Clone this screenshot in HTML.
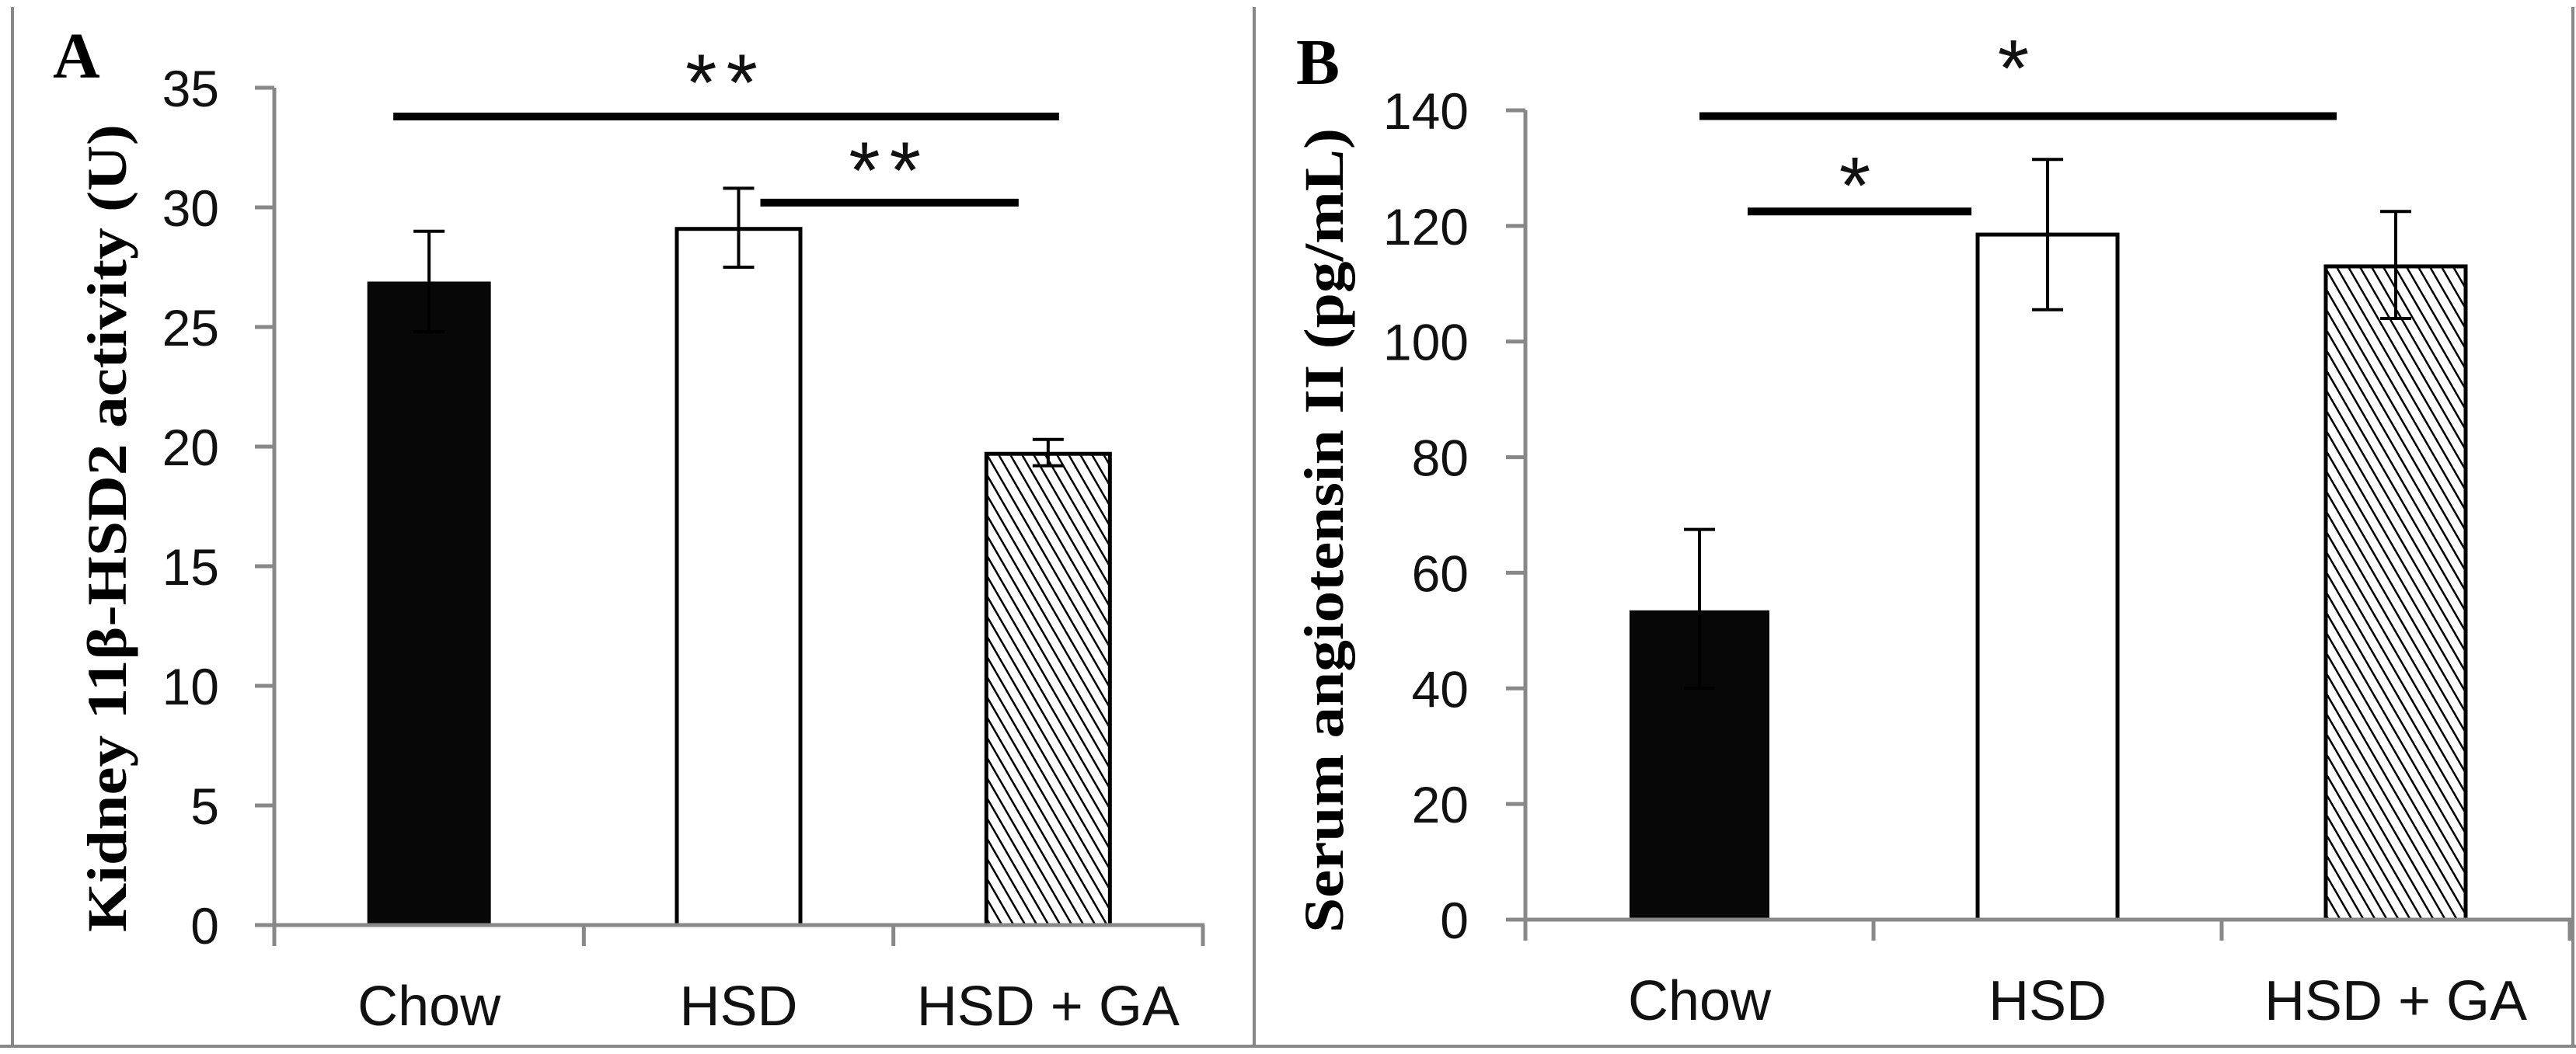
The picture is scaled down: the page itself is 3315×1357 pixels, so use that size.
<!DOCTYPE html>
<html><head><meta charset="utf-8"><style>html,body{margin:0;padding:0;background:#fff}svg{display:block}</style></head>
<body>
<svg id="fig" width="3315" height="1357" viewBox="0 0 3315 1357" xmlns="http://www.w3.org/2000/svg">
<defs>
<pattern id="hatch" patternUnits="userSpaceOnUse" width="13" height="13" patternTransform="rotate(-30)">
<rect width="13" height="13" fill="#fff"/><line x1="0" y1="0" x2="0" y2="13" stroke="#000" stroke-width="5"/>
</pattern>
</defs>
<rect x="14" y="9" width="4" height="1340" fill="#888"/>
<rect x="1612" y="9" width="4" height="1340" fill="#888"/>
<rect x="3309" y="9" width="4" height="1340" fill="#888"/>
<rect x="0" y="1345" width="3315" height="4" fill="#888"/>
<g id="gA"></g>
<g id="gB"></g>
</svg>
<script>
const categories = ["Chow", "HSD", "HSD + GA"];
const valuesA = [26.9, 29.1, 19.7];
const errLowA = [24.8, 27.5, 19.2];
const errHighA = [29.0, 30.8, 20.3];
const ticksA = [0, 5, 10, 15, 20, 25, 30, 35];
const valuesB = [53.5, 118.5, 113];
const errLowB = [40, 105.5, 104];
const errHighB = [67.5, 131.5, 122.5];
const ticksB = [0, 20, 40, 60, 80, 100, 120, 140];
const sigA = [{from: 0, to: 2, level: 33.8, label: "**"}, {from: 1, to: 2, level: 30.2, label: "**"}];
const sigB = [{from: 0, to: 2, level: 139, label: "*"}, {from: 0, to: 1, level: 122.5, label: "*"}];

const NS = "http://www.w3.org/2000/svg";
function mk(parent, tag, attrs, text) {
  const e = document.createElementNS(NS, tag);
  for (const k in attrs) e.setAttribute(k, attrs[k]);
  if (text !== undefined) e.textContent = text;
  parent.appendChild(e);
  return e;
}
const fills = ["#070707", "#fff", "url(#hatch)"];

function drawPanel(g, cfg) {
  const yS = v => cfg.y0 - (v - cfg.vmin) / (cfg.vmax - cfg.vmin) * (cfg.y0 - cfg.yTop);
  const catW = (cfg.xEnd - cfg.x0) / categories.length;
  const xC = i => cfg.x0 + catW * (i + 0.5);
  let t = mk(g, "text", {x: cfg.letterX, y: cfg.letterY, "font-family": "Liberation Serif, serif", "font-weight": "bold", "font-size": 84, fill: "#000"}, cfg.letter);
  
  
  t = mk(g, "text", {x: 0, y: 0, transform: `translate(${cfg.titleX},${cfg.titleY}) rotate(-90)`, "text-anchor": "middle", "font-family": "Liberation Serif, serif", "font-weight": "bold", "font-size": 72, fill: "#000", textLength: cfg.titleLen, lengthAdjust: "spacingAndGlyphs"}, cfg.title);
  
  
  cfg.values.forEach((v, i) => {
    const r = mk(g, "rect", {x: xC(i) - cfg.barW / 2, y: yS(v), width: cfg.barW, height: yS(0) - yS(v), fill: fills[i], stroke: "#000", "stroke-width": i === 0 ? 0 : 5});
    
    
  });
  cfg.values.forEach((v, i) => {
    const eg = mk(g, "g", {stroke: "#000", "stroke-width": 4});
    
    
    const x = xC(i);
    mk(eg, "line", {x1: x, x2: x, y1: yS(cfg.lo[i]), y2: yS(cfg.hi[i])});
    mk(eg, "line", {x1: x - 20, x2: x + 20, y1: yS(cfg.lo[i]), y2: yS(cfg.lo[i])});
    mk(eg, "line", {x1: x - 20, x2: x + 20, y1: yS(cfg.hi[i]), y2: yS(cfg.hi[i])});
  });
  let a = mk(g, "line", {x1: cfg.x0, x2: cfg.x0, y1: yS(cfg.vmax), y2: yS(0) + 2, stroke: "#888", "stroke-width": 5});
  
  
  a = mk(g, "line", {x1: cfg.x0 - 25, x2: cfg.xEnd + 2, y1: yS(0), y2: yS(0), stroke: "#888", "stroke-width": 5});
  
  
  cfg.ticks.forEach(v => {
    const tk = mk(g, "line", {x1: cfg.x0 - 25, x2: cfg.x0, y1: yS(v), y2: yS(v), stroke: "#888", "stroke-width": 5});
    
    
    const lb = mk(g, "text", {x: cfg.labelRight, y: yS(v) + 24, "text-anchor": "end", "font-family": "Liberation Sans, sans-serif", "font-size": 66, fill: "#111"}, String(v));
    
    
  });
  for (let i = 0; i <= categories.length; i++) {
    const x = cfg.x0 + catW * i;
    const tk = mk(g, "line", {x1: x, x2: x, y1: yS(0), y2: yS(0) + 27, stroke: "#888", "stroke-width": 5});
    
    
  }
  categories.forEach((c, i) => {
    const lb = mk(g, "text", {x: xC(i), y: cfg.catY, "text-anchor": "middle", "font-family": "Liberation Sans, sans-serif", "font-size": 72, fill: "#111"}, c);
    
    
  });
  cfg.sig.forEach((s, k) => {
    const x1 = xC(s.from) + cfg.sigX1[k], x2 = xC(s.to) + cfg.sigX2[k];
    const y = yS(s.level);
    const l = mk(g, "line", {x1: x1, x2: x2, y1: y, y2: y, stroke: "#000", "stroke-width": 10});
    
    
    const st = mk(g, "text", {x: (x1 + x2) / 2, y: y + cfg.starDy[k], "text-anchor": "middle", "font-family": "Liberation Sans, sans-serif", "font-size": 104, fill: "#111", "letter-spacing": 12}, s.label);
    
    
  });
}

drawPanel(document.getElementById('gA'), {
  letter: "A", letterX: 68, letterY: 100,
  title: "Kidney 11β-HSD2 activity (U)", titleX: 162, titleY: 680, titleLen: 1040,
  x0: 353, xEnd: 1548, y0: 1191, yTop: 113, vmin: 0, vmax: 35, barW: 159,
  values: valuesA, lo: errLowA, hi: errHighA, ticks: ticksA, labelRight: 282, catY: 1320,
  sig: sigA, sigX1: [-46, 28], sigX2: [14, -38], starDy: [-8, -6]
});
drawPanel(document.getElementById('gB'), {
  letter: "B", letterX: 1668, letterY: 108,
  title: "Serum angiotensin II (pg/mL)", titleX: 1728, titleY: 683, titleLen: 1036,
  x0: 1963, xEnd: 3307, y0: 1184, yTop: 142, vmin: 0, vmax: 140, barW: 180,
  values: valuesB, lo: errLowB, hi: errHighB, ticks: ticksB, labelRight: 1890, catY: 1313,
  sig: sigB, sigX1: [0, 62], sigX2: [-76, -98], starDy: [-26, 2]
});
</script>
</body></html>
